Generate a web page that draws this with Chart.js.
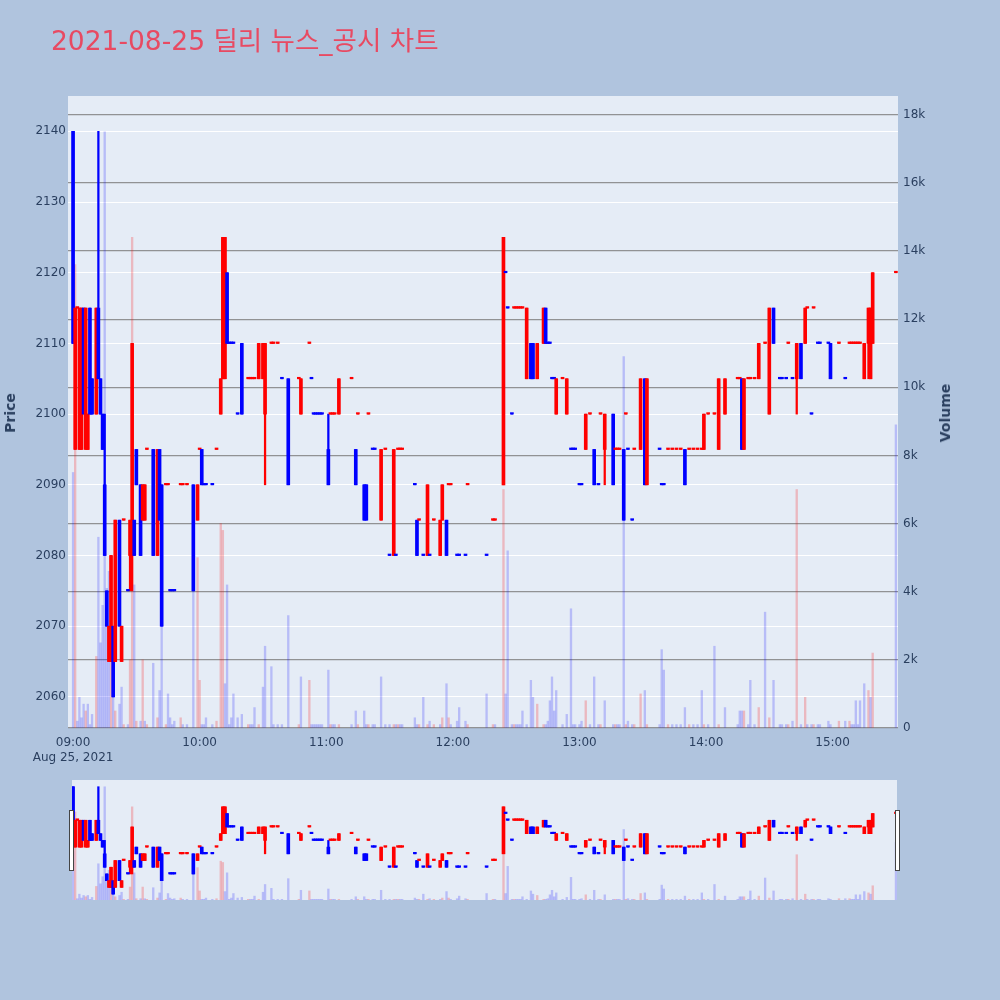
<!DOCTYPE html>
<html><head><meta charset="utf-8">
<script src="https://cdn.jsdelivr.net/npm/chart.js@4.4.0/dist/chart.umd.min.js"></script>
<style>
body{margin:0;background:#b0c4de;}
#wrap{position:relative;width:1000px;height:1000px;background:#b0c4de;overflow:hidden;font-family:'DejaVu Sans',sans-serif;}
canvas{position:absolute;left:0;}
#title{position:absolute;left:51px;top:28px;font-size:26.5px;line-height:26px;color:#e84a62;font-family:'DejaVu Sans','Noto Sans CJK KR',sans-serif;white-space:nowrap;}
.axt{position:absolute;transform:translate(-50%,-50%) rotate(-90deg);font-weight:bold;font-size:14px;color:#2a3f5f;white-space:nowrap;font-family:'DejaVu Sans',sans-serif;}
.handle{position:absolute;width:3px;height:59px;background:#fff;border:1px solid #444;top:810px;z-index:5;}
</style></head>
<body>
<div id="wrap">
  <canvas id="main" width="1000" height="770" style="top:0"></canvas>
  <canvas id="range" width="1000" height="230" style="top:770px"></canvas>
  <div id="title">2021-08-25 딜리 뉴스_공시 차트</div>
  <div class="axt" style="left:10px;top:413px;">Price</div>
  <div class="axt" style="left:945px;top:413px;">Volume</div>
  <div class="handle" style="left:69px;"></div>
  <div class="handle" style="left:895px;"></div>
</div>
<script>
// minutes after 09:00
const minutes = [0,1,2,3,4,5,6,7,8,9,11,12,13,14,15,16,17,18,19,20,22,23,24,26,27,28,29,30,32,33,34,35,38,40,41,42,44,45,46,47,48,51,52,54,57,59,60,61,62,63,66,68,70,71,72,73,74,75,76,78,80,83,84,85,86,88,90,91,94,95,97,99,102,107,108,112,113,114,115,116,117,118,121,122,123,124,126,132,134,135,138,139,140,142,143,146,148,150,152,153,154,155,156,162,163,164,166,168,169,171,174,175,177,178,179,182,183,186,187,196,199,200,204,205,206,208,209,210,211,212,213,215,217,218,220,223,224,225,226,227,228,229,232,234,236,237,238,240,241,243,245,247,249,250,252,256,257,258,259,261,262,263,265,266,269,271,272,278,279,280,282,284,286,288,290,292,294,296,298,299,301,304,306,309,315,316,317,318,320,321,323,325,328,330,332,335,336,338,339,341,343,345,347,348,350,351,353,354,358,359,363,366,368,369,370,371,372,373,375,377,378,379,390];
const opens = [2140,2095,2115,2095,2095,2115,2095,2095,2115,2105,2100,2115,2105,2100,2090,2075,2065,2065,2070,2065,2085,2065,2085,2075,2080,2080,2085,2095,2090,2085,2085,2095,2095,2080,2095,2090,2090,2090,2075,2075,2075,2090,2090,2090,2090,2085,2095,2095,2090,2090,2090,2095,2100,2105,2105,2120,2110,2110,2110,2100,2110,2105,2105,2105,2105,2105,2105,2100,2110,2110,2110,2105,2105,2105,2100,2110,2105,2100,2100,2100,2100,2100,2095,2100,2100,2100,2100,2105,2095,2100,2090,2090,2100,2095,2095,2085,2095,2080,2080,2080,2095,2095,2095,2090,2085,2085,2080,2080,2080,2085,2080,2085,2085,2090,2090,2080,2080,2080,2090,2080,2085,2085,2090,2120,2115,2100,2115,2115,2115,2115,2115,2105,2110,2110,2105,2110,2115,2110,2110,2105,2105,2100,2105,2100,2095,2095,2095,2090,2090,2095,2100,2095,2090,2100,2095,2100,2095,2095,2095,2095,2100,2095,2085,2095,2095,2105,2090,2095,2090,2090,2095,2095,2095,2095,2095,2095,2095,2095,2095,2095,2100,2100,2095,2100,2105,2105,2105,2095,2105,2105,2105,2105,2110,2100,2115,2105,2105,2105,2110,2105,2105,2110,2110,2115,2100,2115,2110,2110,2110,2110,2110,2105,2110,2110,2110,2110,2110,2110,2105,2110,2105,2110,2120];
const highs = [2140,2115,2115,2115,2115,2115,2115,2100,2115,2105,2115,2140,2105,2100,2100,2075,2070,2080,2070,2085,2085,2070,2085,2075,2085,2110,2085,2095,2090,2090,2090,2095,2095,2095,2095,2090,2090,2090,2075,2075,2075,2090,2090,2090,2090,2090,2095,2095,2090,2090,2090,2095,2105,2125,2125,2120,2110,2110,2110,2100,2110,2105,2105,2105,2105,2110,2110,2110,2110,2110,2110,2105,2105,2105,2105,2110,2105,2100,2100,2100,2100,2100,2100,2100,2100,2100,2105,2105,2095,2100,2090,2090,2100,2095,2095,2095,2095,2080,2095,2080,2095,2095,2095,2090,2085,2085,2080,2090,2080,2085,2085,2090,2085,2090,2090,2080,2080,2080,2090,2080,2085,2085,2125,2120,2115,2100,2115,2115,2115,2115,2115,2115,2110,2110,2110,2115,2115,2110,2110,2105,2105,2105,2105,2105,2095,2095,2095,2090,2090,2100,2100,2095,2090,2100,2100,2100,2095,2095,2095,2095,2100,2095,2085,2095,2105,2105,2105,2095,2090,2090,2095,2095,2095,2095,2095,2095,2095,2095,2095,2100,2100,2100,2105,2105,2105,2105,2105,2105,2105,2105,2105,2110,2110,2115,2115,2105,2105,2105,2110,2105,2110,2110,2115,2115,2100,2115,2110,2110,2110,2110,2110,2105,2110,2110,2110,2110,2110,2110,2110,2115,2115,2120,2120];
const lows = [2110,2095,2115,2095,2095,2100,2095,2095,2100,2100,2100,2105,2100,2095,2080,2070,2065,2065,2060,2065,2070,2065,2085,2075,2075,2075,2080,2090,2080,2085,2085,2095,2080,2080,2085,2070,2090,2090,2075,2075,2075,2090,2090,2090,2075,2085,2095,2090,2090,2090,2090,2095,2100,2105,2105,2110,2110,2110,2110,2100,2100,2105,2105,2105,2105,2105,2105,2090,2110,2110,2110,2105,2090,2105,2100,2110,2105,2100,2100,2100,2100,2100,2090,2100,2100,2100,2100,2105,2090,2100,2085,2085,2100,2095,2095,2085,2095,2080,2080,2080,2095,2095,2095,2090,2080,2085,2080,2080,2080,2085,2080,2085,2080,2090,2090,2080,2080,2080,2090,2080,2085,2085,2090,2120,2115,2100,2115,2115,2115,2115,2115,2105,2105,2105,2105,2110,2110,2110,2110,2105,2105,2100,2105,2100,2095,2095,2095,2090,2090,2095,2100,2090,2090,2100,2090,2090,2095,2095,2095,2085,2100,2095,2085,2095,2095,2090,2090,2095,2090,2090,2095,2095,2095,2095,2090,2095,2095,2095,2095,2095,2100,2100,2095,2100,2105,2105,2095,2095,2105,2105,2105,2105,2110,2100,2110,2105,2105,2105,2110,2105,2100,2105,2110,2115,2100,2115,2110,2110,2110,2105,2110,2105,2110,2110,2110,2110,2110,2110,2105,2105,2105,2110,2120];
const closes = [2110,2115,2115,2115,2115,2100,2115,2100,2100,2100,2115,2105,2100,2095,2080,2070,2070,2080,2060,2085,2070,2070,2085,2075,2085,2110,2080,2090,2080,2090,2090,2095,2080,2095,2085,2070,2090,2090,2075,2075,2075,2090,2090,2090,2075,2090,2095,2090,2090,2090,2090,2095,2105,2125,2125,2110,2110,2110,2110,2100,2100,2105,2105,2105,2105,2110,2110,2110,2110,2110,2110,2105,2090,2105,2105,2110,2105,2100,2100,2100,2100,2100,2090,2100,2100,2100,2105,2105,2090,2100,2085,2085,2100,2095,2095,2095,2095,2080,2095,2080,2095,2095,2095,2090,2080,2085,2080,2090,2080,2085,2085,2090,2080,2090,2090,2080,2080,2080,2090,2080,2085,2085,2125,2120,2115,2100,2115,2115,2115,2115,2115,2115,2105,2105,2110,2115,2110,2110,2110,2105,2105,2105,2105,2105,2095,2095,2095,2090,2090,2100,2100,2090,2090,2100,2100,2090,2095,2095,2095,2085,2100,2095,2085,2095,2105,2090,2105,2095,2090,2090,2095,2095,2095,2095,2090,2095,2095,2095,2095,2100,2100,2100,2105,2105,2105,2105,2095,2105,2105,2105,2105,2110,2110,2115,2110,2105,2105,2105,2110,2105,2110,2105,2115,2115,2100,2115,2110,2110,2110,2105,2110,2105,2110,2110,2110,2110,2110,2110,2110,2115,2115,2120,2120];
const volumes = [7500,13600,200,900,300,700,500,700,100,400,2100,5600,2500,3600,17500,4100,4600,3000,2300,500,700,1200,100,100,2000,14400,4200,200,200,2000,200,100,1900,300,1100,5400,100,1000,300,100,200,300,100,100,4200,5000,1400,100,100,300,100,200,6000,5800,1300,4200,100,300,1000,300,400,100,100,100,600,100,1200,2400,1800,100,100,100,3300,100,1500,1400,100,100,100,100,100,100,1700,100,100,100,100,100,500,100,500,100,100,100,100,1500,100,100,100,100,100,100,100,300,100,100,900,100,200,100,100,300,1300,300,100,200,600,200,100,1000,100,100,7000,1000,5200,100,100,100,100,100,500,100,1400,900,700,100,100,200,800,1500,500,1100,100,400,3500,100,100,100,200,800,100,1500,100,100,800,100,100,100,100,10900,100,200,100,100,1000,1100,100,100,2300,1700,100,100,100,100,600,100,100,100,1100,100,100,2400,100,600,100,500,500,500,100,1400,100,600,3400,300,1400,100,100,100,100,200,7000,100,900,100,100,100,100,100,200,100,200,200,200,100,100,800,100,800,1300,1100,900,2200,8900];

const hourTicks = [0,60,120,180,240,300,360];
const hourLabels = ['09:00','10:00','11:00','12:00','13:00','14:00','15:00'];
const dateLabel = 'Aug 25, 2021';
const priceTicks = [2060,2070,2080,2090,2100,2110,2120,2130,2140];
const volumeTicks = [0,2000,4000,6000,8000,10000,12000,14000,16000,18000];
const volumeLabels = ['0','2k','4k','6k','8k','10k','12k','14k','16k','18k'];

const UP = '#ff0000', DOWN = '#0000ff';
const UPV = 'rgba(255,0,0,0.22)', DOWNV = 'rgba(0,0,255,0.2)';

const isUp = [];
for (let i = 0; i < minutes.length; i++) {
  let d;
  if (closes[i] > opens[i]) d = true;
  else if (closes[i] < opens[i]) d = false;
  else if (i > 0 && closes[i] > closes[i-1]) d = true;
  else if (i > 0 && closes[i] < closes[i-1]) d = false;
  else d = i > 0 ? isUp[i-1] : false;
  isUp.push(d);
}
const candleColors = isUp.map(u => u ? UP : DOWN);
const volColors = closes.map((c, i) => (i > 0 && c > closes[i-1]) ? UPV : DOWNV);

function makeDatasets() {
  return [
    { label:'body', order:0, grouped:false, barThickness:3, minBarLength:1.5, borderWidth:0,
      data: minutes.map((m,i)=>({x:m, y:[opens[i], closes[i]]})),
      backgroundColor: candleColors, yAxisID:'y' },
    { label:'wick', order:1, grouped:false, barThickness:1.6, borderWidth:0,
      data: minutes.map((m,i)=>({x:m, y:[lows[i], highs[i]]})),
      backgroundColor: candleColors, yAxisID:'y' },
    { label:'volume', order:2, grouped:false, barThickness:1.7, borderWidth:0,
      data: minutes.map((m,i)=>({x:m, y:volumes[i]})),
      backgroundColor: volColors, yAxisID:'y2' }
  ];
}

const bgPlugin = { id:'bg', beforeDraw(c){ const a=c.chartArea, ctx=c.ctx; ctx.save(); ctx.fillStyle='#e5ecf6'; ctx.fillRect(a.left,a.top,a.width,a.height); ctx.restore(); } };

const tickFont = { family:'DejaVu Sans', size:12 };
const tickColor = '#2a3f5f';

new Chart(document.getElementById('main'), {
  type:'bar',
  data:{ datasets: makeDatasets() },
  options:{
    responsive:false, animation:false, devicePixelRatio:1,
    layout:{ padding:{ top:96, left:0, right:0, bottom:0 } },
    plugins:{ legend:{display:false}, tooltip:{enabled:false}, title:{display:false} },
    scales:{
      x:{ type:'linear', min:-2.4, max:391, offset:false,
          grid:{display:false, drawTicks:false}, border:{display:false},
          afterBuildTicks:(s)=>{ s.ticks = hourTicks.map(v=>({value:v})); },
          ticks:{ autoSkip:false, maxRotation:0, padding:8, color:tickColor, font:tickFont,
            callback:(v)=>{ const i = hourTicks.indexOf(v); return i===0 ? [hourLabels[0], dateLabel] : hourLabels[i]; } },
          afterFit:(s)=>{ s.height = 42; } },
      y:{ type:'linear', position:'left', min:2055.6, max:2145,
          grid:{color:'#ffffff', lineWidth:1, drawTicks:false}, border:{display:false},
          afterBuildTicks:(s)=>{ s.ticks = priceTicks.map(v=>({value:v})); },
          ticks:{ padding:2, color:tickColor, font:tickFont, callback:(v)=>String(v) },
          afterFit:(s)=>{ s.width = 68; } },
      y2:{ type:'linear', position:'right', min:0, max:18550,
          grid:{color:'rgba(130,130,130,0.85)', lineWidth:1.2, drawTicks:false}, border:{display:false},
          afterBuildTicks:(s)=>{ s.ticks = volumeTicks.map(v=>({value:v})); },
          ticks:{ autoSkip:false, padding:5, color:tickColor, font:tickFont,
            callback:(v)=> volumeLabels[volumeTicks.indexOf(v)] },
          afterFit:(s)=>{ s.width = 102; } }
    }
  },
  plugins:[bgPlugin]
});

new Chart(document.getElementById('range'), {
  type:'bar',
  data:{ datasets: makeDatasets() },
  options:{
    responsive:false, animation:false, devicePixelRatio:1,
    layout:{ padding:{ top:10, left:72, right:103, bottom:100 } },
    plugins:{ legend:{display:false}, tooltip:{enabled:false} },
    scales:{
      x:{ type:'linear', display:false, min:-0.5, max:390.5, offset:false },
      y:{ type:'linear', display:false, min:2055.6, max:2145 },
      y2:{ type:'linear', display:false, min:0, max:18550 }
    }
  },
  plugins:[bgPlugin]
});
</script>
</body></html>
